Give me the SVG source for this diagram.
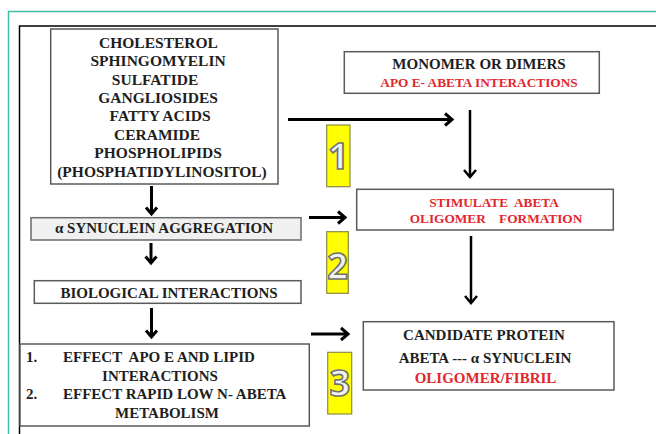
<svg xmlns="http://www.w3.org/2000/svg" width="656" height="434" viewBox="0 0 656 434">
<style>
.box{fill:#ffffff;stroke:#5a5a5a;stroke-width:1.5}
.gbox{fill:#f0f0f0;stroke:#6a6a6a;stroke-width:1.5}
.t{font-family:"Liberation Serif","DejaVu Serif","Times New Roman",serif;font-weight:bold;font-size:15px;fill:#1e1e1e}
.r{fill:#e3262d}
.c{text-anchor:middle}
.yb{fill:#ffff00;stroke:#8a8a4a;stroke-width:1.2}
.num{font-family:"Open Sans","Liberation Sans",sans-serif;font-weight:bold;font-size:36px;fill:#f2f2f2;stroke:#707070;stroke-width:1.6;text-anchor:middle}
.ln{fill:none;stroke:#000;stroke-width:3;stroke-linecap:butt}
.hd{fill:none;stroke:#000;stroke-width:3;stroke-linejoin:miter}
</style>
<rect width="656" height="434" fill="#ffffff"/>
<g id="frame">
<path d="M8.5,434 V11.5 H656" fill="none" stroke="#3cbfa5" stroke-width="1.5"/>
<path d="M19.5,434 V26 H656" fill="none" stroke="#000" stroke-width="1.5"/>
</g>
<g id="connectors">
<line class="ln" x1="288" y1="119.5" x2="451" y2="119.5"/>
<polyline class="hd" points="445,113.5 452,119.5 445,125.5"/>
<line class="ln" x1="470" y1="110" x2="470" y2="175" style="stroke-width:2.5"/>
<polyline class="hd" points="464,170 470,177 476,170" style="stroke-width:2.5"/>
<line class="ln" x1="309" y1="217.5" x2="344" y2="217.5"/>
<polyline class="hd" points="338,211.5 345,217.5 338,223.5"/>
<line class="ln" x1="471" y1="236" x2="471" y2="301" style="stroke-width:2.5"/>
<polyline class="hd" points="465,296 471,303 477,296" style="stroke-width:2.5"/>
<line class="ln" x1="311" y1="334" x2="347" y2="334"/>
<polyline class="hd" points="341,328 348,334 341,340"/>
<line class="ln" x1="151.5" y1="186" x2="151.5" y2="213"/>
<polyline class="hd" points="146,207.5 151.5,214 157,207.5"/>
<line class="ln" x1="151" y1="243" x2="151" y2="262"/>
<polyline class="hd" points="145.5,256.5 151,263 156.5,256.5"/>
<line class="ln" x1="151.5" y1="308" x2="151.5" y2="336"/>
<polyline class="hd" points="146,330.5 151.5,337 157,330.5"/>
</g>
<g id="lipids">
<rect class="box" x="50.7" y="29" width="227.3" height="155"/>
<text class="t c" style="font-size:15.5px">
<tspan x="160" y="47.5">CHOLESTEROL</tspan>
<tspan x="160" y="66">SPHINGOMYELIN</tspan>
<tspan x="157" y="84.5">SULFATIDE</tspan>
<tspan x="160" y="103">GANGLIOSIDES</tspan>
<tspan x="162" y="121">FATTY ACIDS</tspan>
<tspan x="159" y="139.5">CERAMIDE</tspan>
<tspan x="160" y="158">PHOSPHOLIPIDS</tspan>
<tspan x="162" y="176.5">(PHOSPHATIDYLINOSITOL)</tspan>
</text>
</g>
<g id="monomer">
<rect class="box" x="344.3" y="51.7" width="255" height="41.6"/>
<text class="t c" x="479" y="69">MONOMER OR DIMERS</text>
<text class="t c r" x="479" y="86.5" style="font-size:13.3px">APO E- ABETA INTERACTIONS</text>
</g>
<g id="stimulate">
<rect class="box" x="356.7" y="189.3" width="256.6" height="40.7"/>
<text class="t c r" x="494" y="206.5" style="font-size:13.3px" xml:space="preserve">STIMULATE  ABETA</text>
<text class="t c r" x="496" y="223.3" style="font-size:13.3px" xml:space="preserve">OLIGOMER    FORMATION</text>
</g>
<g id="candidate">
<rect class="box" x="363.3" y="321.7" width="250.7" height="68.3"/>
<text class="t c" x="484" y="340">CANDIDATE PROTEIN</text>
<text class="t c" x="485" y="363.3">ABETA --- α SYNUCLEIN</text>
<text class="t c r" x="485.5" y="383.3">OLIGOMER/FIBRIL</text>
</g>
<g id="synuclein">
<rect class="gbox" x="31" y="217.7" width="270" height="22.3"/>
<text class="t c" x="164" y="232.7">α SYNUCLEIN AGGREGATION</text>
</g>
<g id="biological">
<rect class="box" x="34.3" y="280.7" width="266.7" height="22.6"/>
<text class="t c" x="169" y="298.3">BIOLOGICAL INTERACTIONS</text>
</g>
<g id="effects">
<rect class="box" x="20" y="344" width="289.3" height="82"/>
<text class="t" x="26" y="361.7">1.</text>
<text class="t" x="63" y="361.7" xml:space="preserve">EFFECT  APO E AND LIPID</text>
<text class="t c" x="160" y="380.7">INTERACTIONS</text>
<text class="t" x="26" y="399.3">2.</text>
<text class="t" x="63" y="399.3">EFFECT RAPID LOW N- ABETA</text>
<text class="t c" x="167" y="418.3">METABOLISM</text>
</g>
<g id="step1">
<rect class="yb" x="326.7" y="125" width="23.3" height="61.7"/>
<text class="num" x="338.3" y="169">1</text>
</g>
<g id="step2">
<rect class="yb" x="326.7" y="231.7" width="21.6" height="61.6"/>
<text class="num" x="337.5" y="279">2</text>
</g>
<g id="step3">
<rect class="yb" x="327.7" y="352.3" width="24" height="61.7"/>
<text class="num" x="339.7" y="396">3</text>
</g>
</svg>
